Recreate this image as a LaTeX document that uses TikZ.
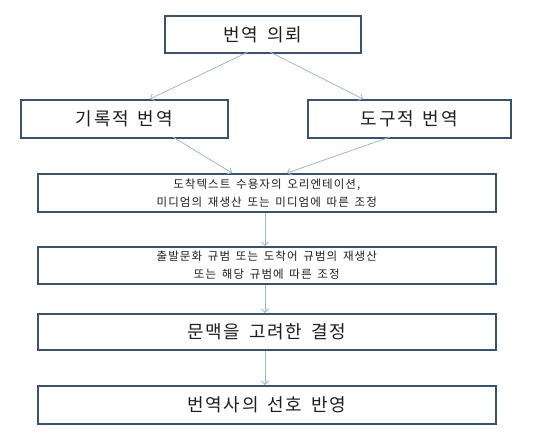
\documentclass[tikz,border=0pt]{standalone}
\usepackage{fontspec}
\setmainfont[LetterSpace=9,WordSpace=1.6]{Noto Sans CJK KR}
\usetikzlibrary{arrows.meta}
\definecolor{boxline}{RGB}{60,82,108}
\definecolor{conn}{RGB}{160,182,206}
\definecolor{txt}{RGB}{30,30,30}
\tikzset{
  box/.style={draw=boxline, line width=1.6pt, fill=white, text=txt, inner sep=0pt, anchor=north west},
  bigtext/.style={font=\fontsize{18}{20}\selectfont},
  smalltext/.style={font=\fontsize{11.5}{18}\selectfont, align=center},
  conarrow/.style={draw=conn, line width=0.8pt, -{Straight Barb[length=3.5pt,width=7pt]}}
}
\begin{document}
\begin{tikzpicture}[x=1pt,y=-1pt]
\useasboundingbox (0,0) rectangle (550,434);
\node[box,bigtext,minimum width=196pt,minimum height=37pt] (req) at (164,15) {번역 의뢰};
\node[box,bigtext,minimum width=207pt,minimum height=38pt] (doc) at (20,99) {기록적 번역};
\node[box,bigtext,minimum width=203pt,minimum height=38pt] (ins) at (307,99) {도구적 번역};
\node[box,smalltext,minimum width=458pt,minimum height=38pt] (ori) at (37,173) {도착텍스트 수용자의 오리엔테이션,\\미디엄의 재생산 또는 미디엄에 따른 조정};
\node[box,smalltext,minimum width=458pt,minimum height=37pt] (norm) at (37,246) {출발문화 규범 또는 도착어 규범의 재생산\\또는 해당 규범에 따른 조정};
\node[box,bigtext,minimum width=458pt,minimum height=36pt] (ctx) at (37,313) {문맥을 고려한 결정};
\node[box,bigtext,minimum width=458pt,minimum height=38pt] (pref) at (37,385) {번역사의 선호 반영};

\coordinate (reqL) at (248,52);
\coordinate (reqR) at (270,52);
\coordinate (docT) at (150,99);
\coordinate (insT) at (363,99);
\coordinate (docB) at (173,137);
\coordinate (insB) at (390,137);
\coordinate (oriL) at (232,173);
\coordinate (oriR) at (287,173);

\draw[conarrow] (reqL) -- (docT);
\draw[conarrow] (reqR) -- (insT);
\draw[conarrow] (docB) -- (oriL);
\draw[conarrow] (insB) -- (oriR);
\draw[conarrow] (ori.south -| 265,0) -- (norm.north -| 265,0);
\draw[conarrow] (norm.south -| 265,0) -- (ctx.north -| 265,0);
\draw[conarrow] (ctx.south -| 265,0) -- (pref.north -| 265,0);
\end{tikzpicture}
\end{document}
